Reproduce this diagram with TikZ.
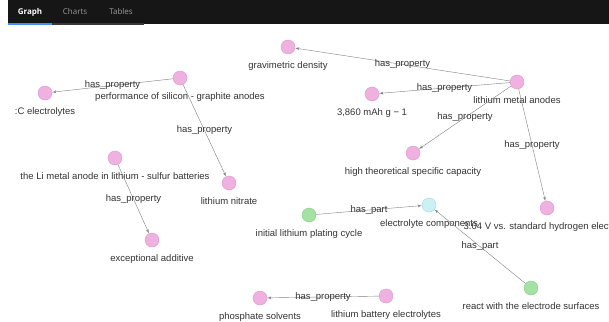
\documentclass[tikz,border=0pt]{standalone}
\usepackage{fontspec}
\setmainfont{Liberation Sans}
\newfontfamily\tabfont{Open Sans}
\usetikzlibrary{arrows}
\definecolor{pinkfill}{RGB}{239,177,224}
\definecolor{pinkline}{RGB}{220,150,205}
\definecolor{greenfill}{RGB}{163,226,163}
\definecolor{greenline}{RGB}{135,205,135}
\definecolor{cyanfill}{RGB}{203,241,243}
\definecolor{cyanline}{RGB}{165,215,220}
\definecolor{txt}{RGB}{51,51,51}
\definecolor{barbg}{RGB}{22,22,22}
\definecolor{tabblue}{RGB}{69,137,255}
\definecolor{tabgray}{RGB}{57,57,57}
\tikzset{entity/.style = {shape=circle,draw,minimum size=14pt,inner sep=0pt,
  label={[text=txt,inner sep=1pt,label distance=6pt,font=\fontsize{9.5}{11}\selectfont]below:{#1}}}}
\tikzset{prop/.style = {entity={#1},fill=pinkfill,draw=pinkline}}
\tikzset{part/.style = {entity={#1},fill=greenfill,draw=greenline}}
\tikzset{comp/.style = {entity={#1},fill=cyanfill,draw=cyanline}}
\tikzset{edge/.style = {->,> = latex',draw=gray,line width=0.4pt}}
\tikzset{rel/.style = {text=txt,inner sep=0pt,font=\fontsize{9.5}{11}\selectfont}}
\tikzset{tab/.style = {font=\tabfont\fontsize{8}{10}\selectfont,inner sep=0pt}}

\begin{document}
\begin{tikzpicture}[x=1pt,y=-1pt]
\clip (0,0) rectangle (609,321);
\fill[white] (0,0) rectangle (609,321);

% tab bar
\fill[barbg] (8,0) rectangle (609,24);
\fill[tabblue] (8,23) rectangle (52,25);
\fill[tabgray] (52,23.5) rectangle (144,25);
\node[tab,text=white,font=\tabfont\bfseries\fontsize{8}{10}\selectfont] (tgraph) at (30,12) {Graph};
\node[tab,text=gray!80] (tcharts) at (75,12) {Charts};
\node[tab,text=gray!80] (ttables) at (121,12) {Tables};

% nodes
\node[prop={gravimetric density}] (gd) at (288,47) {};
\node[prop={lithium metal anodes}] (lma) at (517,82) {};
\node[prop={3{,}860 mAh g − 1}] (cap) at (372,94) {};
\node[prop={high theoretical specific capacity}] (htc) at (413,153) {};
\node[prop={3.04 V vs. standard hydrogen electrode}] (she) at (547,208) {};
\node[prop={performance of silicon - graphite anodes}] (psg) at (180,78) {};
\node[prop={:C electrolytes}] (ce) at (45,93) {};
\node[prop={lithium nitrate}] (ln) at (229,183) {};
\node[prop={the Li metal anode in lithium - sulfur batteries}] (lis) at (115,158) {};
\node[prop={exceptional additive}] (ea) at (152,240) {};
\node[part={initial lithium plating cycle}] (ipc) at (309,215) {};
\node[comp={electrolyte components}] (ec) at (429,205) {};
\node[part={react with the electrode surfaces}] (res) at (531,288) {};
\node[prop={lithium battery electrolytes}] (lbe) at (386,296) {};
\node[prop={phosphate solvents}] (ps) at (260,298) {};

% edges
\draw[edge] (lma) -- (gd) node[midway,rel] {has\_property};
\draw[edge] (lma) -- (cap) node[midway,rel] {has\_property};
\draw[edge] (lma) -- (htc) node[midway,rel] {has\_property};
\draw[edge] (lma) -- (she) node[midway,rel] {has\_property};
\draw[edge] (psg) -- (ce) node[midway,rel] {has\_property};
\draw[edge] (psg) -- (ln) node[midway,rel] {has\_property};
\draw[edge] (lis) -- (ea) node[midway,rel] {has\_property};
\draw[edge] (ipc) -- (ec) node[midway,rel] {has\_part};
\draw[edge] (res) -- (ec) node[midway,rel] {has\_part};
\draw[edge] (lbe) -- (ps) node[midway,rel] {has\_property};

\end{tikzpicture}
\end{document}
